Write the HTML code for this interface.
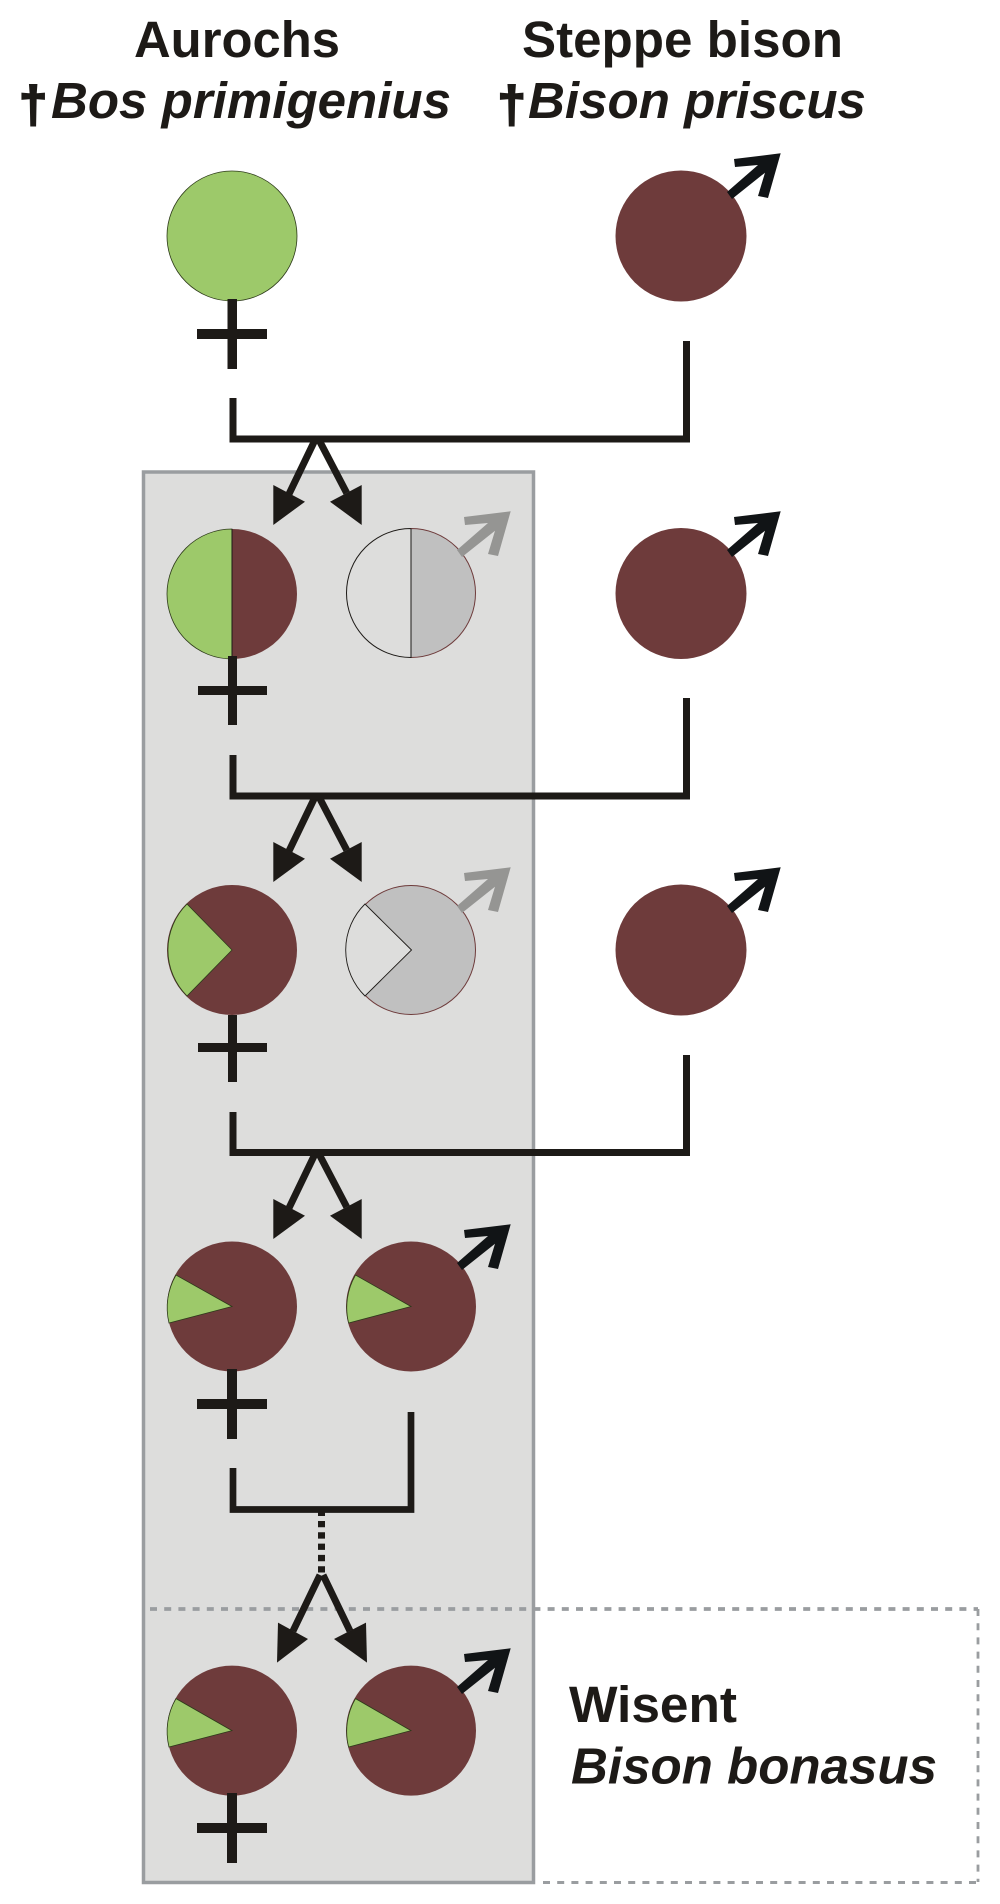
<!DOCTYPE html>
<html><head><meta charset="utf-8"><style>
html,body{margin:0;padding:0;background:#fff}
svg{display:block}
text{font-family:"Liberation Sans",sans-serif;font-weight:bold;font-size:51px;fill:#1d1a17}
.i{font-style:italic}
.d{stroke:#1d1a17;stroke-width:2}
</style></head><body>
<svg width="1000" height="1904" viewBox="0 0 1000 1904" xmlns="http://www.w3.org/2000/svg">
<defs>
<polygon id="m" points="780.7,153.3 768,198 758,196 765,172.7 732,199 727,192 758,165 735,167 734,159"/>
<g id="fork">
<path d="M315,440 L289,494 M319,440 L346.7,493" fill="none" stroke="#1d1a17" stroke-width="7"/>
<polygon points="273.3,525 273.3,485 305,501.7" fill="#1d1a17"/>
<polygon points="361.7,525 361.7,485 330,501.7" fill="#1d1a17"/>
</g>
</defs>

<!-- gray box -->
<rect x="143.5" y="472" width="390" height="1410.5" fill="#dddddc" stroke="#9a9da0" stroke-width="3.5"/>
<!-- dashed box -->
<path d="M150,1609 H978" fill="none" stroke="#9a9da0" stroke-width="3.8" stroke-dasharray="7 7.2"/>
<path d="M978,1609 V1882" fill="none" stroke="#9a9da0" stroke-width="2.8" stroke-dasharray="7 7.2"/>
<path d="M543,1882.5 H978" fill="none" stroke="#9a9da0" stroke-width="3" stroke-dasharray="7 7.2"/>

<!-- titles -->
<text x="134" y="57" textLength="206" lengthAdjust="spacingAndGlyphs">Aurochs</text>
<text x="522" y="57" textLength="321" lengthAdjust="spacingAndGlyphs">Steppe bison</text>
<text class="d" x="19" y="122">†</text>
<text class="i" x="51" y="118" textLength="400" lengthAdjust="spacingAndGlyphs">Bos primigenius</text>
<text class="d" x="497.5" y="122">†</text>
<text class="i" x="528" y="118" textLength="338" lengthAdjust="spacingAndGlyphs">Bison priscus</text>
<text x="569" y="1722" textLength="168" lengthAdjust="spacingAndGlyphs">Wisent</text>
<text class="i" x="571" y="1783.5" textLength="366" lengthAdjust="spacingAndGlyphs">Bison bonasus</text>

<!-- forks -->
<use href="#fork"/>
<use href="#fork" y="357"/>
<use href="#fork" y="714"/>
<path d="M320,1575 L293,1631 M323,1575 L350,1631" fill="none" stroke="#1d1a17" stroke-width="7"/>
<polygon points="277,1662.6 278,1622.6 308,1639" fill="#1d1a17"/>
<polygon points="367,1662.6 366,1622.6 334,1639" fill="#1d1a17"/>

<!-- connectors -->
<g fill="none" stroke="#1d1a17" stroke-width="7">
<path d="M233,398 V439 H686.5 V341"/>
<path d="M233,755 V796 H686.5 V698"/>
<path d="M233,1112 V1152.5 H686.5 V1055"/>
<path d="M233,1468 V1509.5 H411 V1412" stroke-width="6.7"/>
<path d="M321.5,1509.7 V1573" stroke-width="7" stroke-dasharray="6.3 5"/>
</g>

<!-- row 1 -->
<circle cx="232" cy="236" r="65" fill="#9dc96a" stroke="#2d3a1a" stroke-width="0.8"/>
<circle cx="681" cy="236" r="65.5" fill="#6e3b3b"/>

<!-- row 2 -->
<path d="M232,529 A65,65 0 0 0 232,659 Z" fill="#9dc96a" stroke="#2d3a1a" stroke-width="0.8"/>
<path d="M232,529 A65,65 0 0 1 232,659 Z" fill="#6e3b3b"/>
<path d="M232,529 V659" stroke="#1d1a17" stroke-width="1"/>
<path d="M411,528.5 A64.5,64.5 0 0 0 411,657.5 Z" fill="#dddddc" stroke="#1d1a17" stroke-width="1"/>
<path d="M411,528.5 A64.5,64.5 0 0 1 411,657.5 Z" fill="#c0c0c0" stroke="#6e3b3b" stroke-width="1"/>
<path d="M411,528.5 V658" stroke="#1d1a17" stroke-width="1"/>
<circle cx="681" cy="593.5" r="65.5" fill="#6e3b3b"/>

<!-- row 3 -->
<circle cx="232" cy="950" r="65" fill="#6e3b3b"/>
<path d="M232,950 L187,904 A65,65 0 0 0 187,996 Z" fill="#9dc96a" stroke="#2d3a1a" stroke-width="0.8"/>
<circle cx="411" cy="950" r="64.5" fill="#c0c0c0" stroke="#6e3b3b" stroke-width="1"/>
<path d="M411.5,950 L365,904 A64.5,64.5 0 0 0 365,996 Z" fill="#dddddc" stroke="#1d1a17" stroke-width="0.9"/>
<circle cx="681" cy="950" r="65.5" fill="#6e3b3b"/>

<!-- row 4 -->
<circle cx="232" cy="1306.5" r="65" fill="#6e3b3b"/>
<path d="M232,1306.5 L176,1275 A65,65 0 0 0 169,1323 Z" fill="#9dc96a" stroke="#2d3a1a" stroke-width="0.8"/>
<circle cx="411" cy="1306.5" r="65" fill="#6e3b3b"/>
<path d="M411,1306.5 L355.5,1275 A65,65 0 0 0 348.6,1323 Z" fill="#9dc96a" stroke="#2d3a1a" stroke-width="0.8"/>

<!-- row 5 -->
<circle cx="232" cy="1730.6" r="65" fill="#6e3b3b"/>
<path d="M232,1730.6 L176,1698.6 A65,65 0 0 0 169,1747 Z" fill="#9dc96a" stroke="#2d3a1a" stroke-width="0.8"/>
<circle cx="411" cy="1730.6" r="65" fill="#6e3b3b"/>
<path d="M411,1730.6 L355.5,1698.6 A65,65 0 0 0 348.6,1747 Z" fill="#9dc96a" stroke="#2d3a1a" stroke-width="0.8"/>

<!-- male arrows -->
<g fill="#111416">
<use href="#m"/>
<use href="#m" y="358"/>
<use href="#m" y="714"/>
<use href="#m" x="-270" y="1071"/>
<use href="#m" x="-270" y="1495"/>
</g>
<g fill="#959593">
<use href="#m" x="-270" y="358"/>
<use href="#m" x="-270" y="714"/>
</g>

<!-- female symbols -->
<g fill="#1d1a17">
<rect x="227.5" y="299" width="9.5" height="70"/><rect x="197" y="329" width="70" height="10"/>
<rect x="228" y="656" width="9" height="69"/><rect x="198" y="686" width="69" height="9"/>
<rect x="228" y="1015" width="9" height="67"/><rect x="198" y="1043" width="69" height="9"/>
<rect x="227" y="1369" width="10" height="70"/><rect x="197" y="1399" width="70" height="10"/>
<rect x="227" y="1793" width="10" height="70"/><rect x="197" y="1823" width="70" height="10"/>
</g>
</svg>
</body></html>
